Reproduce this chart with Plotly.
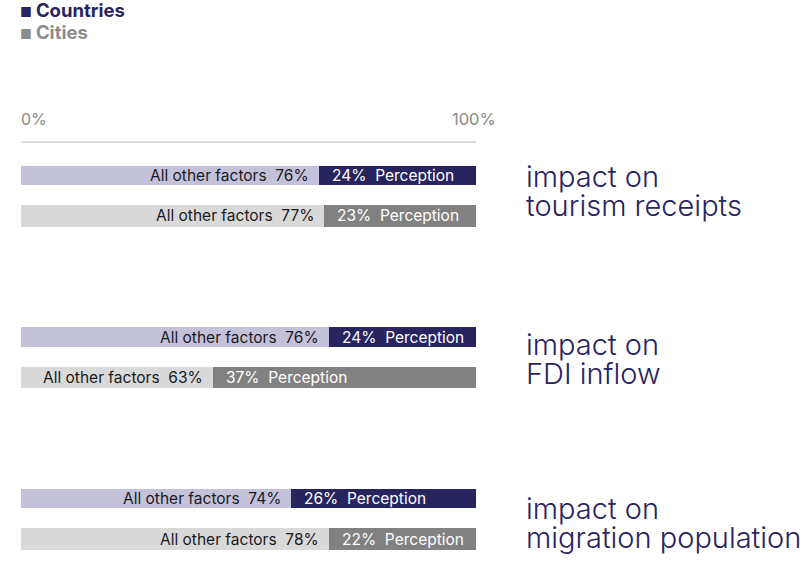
import plotly.graph_objects as go

# ---- data -------------------------------------------------------------
groups = ["impact on<br>tourism receipts", "impact on<br>FDI inflow", "impact on<br>migration population"]
series = ["Countries", "Cities"]
countries_other = [76, 76, 74]
countries_perception = [24, 24, 26]
cities_other = [77, 63, 78]
cities_perception = [23, 37, 22]
# length of the "all other factors" segment as drawn in the picture (% of bar)
countries_other_drawn = [65.5, 67.7, 59.3]
cities_other_drawn = [66.6, 42.2, 67.7]
tick_vals = [0, 100]
tick_text = ["0%", "100%"]

# ---- styles -----------------------------------------------------------
NAVY = "#27245f"
LAV = "#c4c1db"
GREY = "#818181"
LGREY = "#d9d9d9"
FONT = "Inter"
LABEL_NUDGE = [5, -2, -4]  # px vertical nudge of each group label

fig = go.Figure()

specs = [
    (countries_other, countries_perception, countries_other_drawn, 0, LAV, NAVY, 0.48, "Countries"),
    (cities_other, cities_perception, cities_other_drawn, 1, LGREY, GREY, 0.53, "Cities"),
]

annotations = []
for other, perc, drawn, j, c_light, c_dark, w, name in specs:
    ys = [4 * i + j for i in range(len(groups))]
    fig.add_trace(go.Bar(
        x=drawn, y=ys, orientation="h", marker=dict(color=c_light, line=dict(width=0)),
        width=w, name=name + " other", showlegend=False, hoverinfo="skip"))
    fig.add_trace(go.Bar(
        x=[100 - d for d in drawn], y=ys, orientation="h",
        marker=dict(color=c_dark, line=dict(width=0)),
        width=w, name=name, showlegend=False, hoverinfo="skip"))
    for o, p, d, y in zip(other, perc, drawn, ys):
        annotations.append(dict(
            x=d, y=y, xref="x", yref="y", xanchor="right", yanchor="middle",
            xshift=-8, showarrow=False,
            text=f"All other factors\u00a0\u00a0{o}%",
            font=dict(family=FONT, size=15.5, color="#1a1a1a")))
        annotations.append(dict(
            x=d, y=y, xref="x", yref="y", xanchor="left", yanchor="middle",
            xshift=11, showarrow=False,
            text=f"{p}%\u00a0\u00a0Perception",
            font=dict(family=FONT, size=15.5, color="white")))

# category labels on the right (one annotation per line)
for i, g in enumerate(groups):
    lines = g.split("<br>")
    for k, line in enumerate(lines):
        annotations.append(dict(
            x=1.106, y=4 * i + 0.5, xref="paper", yref="y", xanchor="left", yanchor="middle",
            yshift=14.5 - 29 * k + LABEL_NUDGE[i], showarrow=False, text=line,
            font=dict(family=FONT, size=29, color=NAVY, weight=300)))

# axis tick labels
annotations.append(dict(x=tick_vals[0], y=1, xref="x", yref="paper", xanchor="left",
                        yanchor="middle", yshift=24, xshift=-2, showarrow=False, text=tick_text[0],
                        font=dict(family=FONT, size=16, color="#8a8a8a")))
annotations.append(dict(x=tick_vals[1], y=1, xref="x", yref="paper", xanchor="center",
                        yanchor="middle", yshift=24, xshift=-2, showarrow=False, text=tick_text[1],
                        font=dict(family=FONT, size=16.5, color="#8a8a8a")))

# legend
legend_items = [("Countries", NAVY, 133), ("Cities", "#8c8c8c", 111)]
for name, col, ysh in legend_items:
    annotations.append(dict(
        x=0, y=1, xref="paper", yref="paper", xanchor="left", yanchor="middle",
        yshift=ysh, xshift=-3, showarrow=False,
        text=f"<span style='font-size:13px'>■</span>\u00a0<b>{name}</b>",
        font=dict(family=FONT, size=18.5, color=col, weight=800)))

fig.update_layout(
    width=810, height=566,
    margin=dict(l=21, r=334, t=143, b=0),
    barmode="stack", bargap=0,
    plot_bgcolor="white", paper_bgcolor="white",
    xaxis=dict(range=[0, 100], side="top", showline=True, linecolor="#dddddd", linewidth=2,
               showticklabels=False, ticks="", showgrid=False, zeroline=False, fixedrange=True),
    yaxis=dict(range=[9.666, -0.804], visible=False, fixedrange=True),
    annotations=annotations,
    showlegend=False,
)

fig.write_html("out.html", config={"displayModeBar": False},
               post_script="document.body.style.margin='0';")
